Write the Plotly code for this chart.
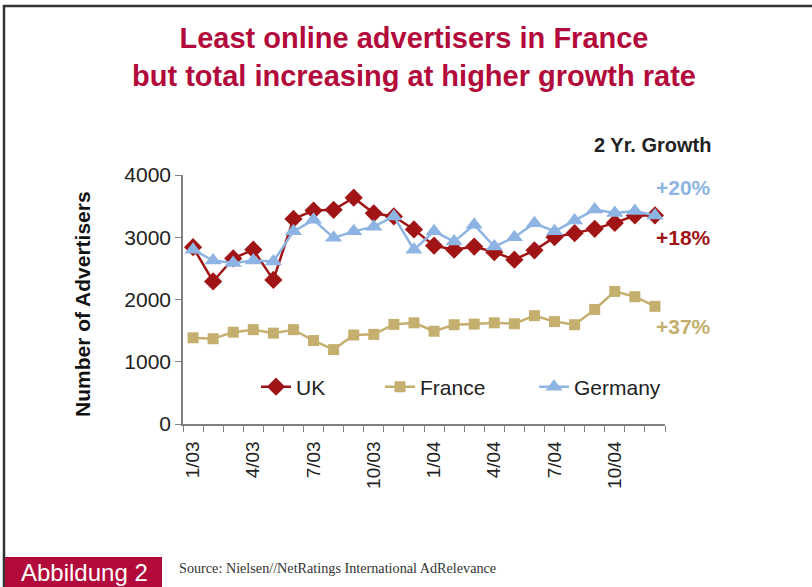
import plotly.graph_objects as go

months = ["1/03", "2/03", "3/03", "4/03", "5/03", "6/03", "7/03", "8/03", "9/03", "10/03", "11/03", "12/03",
          "1/04", "2/04", "3/04", "4/04", "5/04", "6/04", "7/04", "8/04", "9/04", "10/04", "11/04", "12/04"]
tick_labels = ["1/03", "", "", "4/03", "", "", "7/03", "", "", "10/03", "", "",
               "1/04", "", "", "4/04", "", "", "7/04", "", "", "10/04", "", ""]

uk = [2840, 2290, 2660, 2800, 2315, 3295, 3430, 3440, 3635, 3385, 3335, 3125,
      2865, 2800, 2850, 2760, 2640, 2790, 3000, 3065, 3135, 3230, 3350, 3350]
france = [1385, 1370, 1475, 1515, 1460, 1515, 1340, 1195, 1430, 1440, 1600, 1625,
          1490, 1595, 1605, 1625, 1610, 1740, 1645, 1595, 1840, 2130, 2045, 1890]
germany = [2800, 2625, 2585, 2625, 2610, 3095, 3280, 2990, 3095, 3170, 3335, 2800,
           3095, 2930, 3200, 2850, 3000, 3225, 3095, 3270, 3445, 3390, 3420, 3350]

growth_labels = ["+20%", "+18%", "+37%"]
growth_y = [3800, 3000, 1570]

W, H = 812, 587
L, R, T, B = 183, 147, 175, 163
PW, PH = W - L - R, H - T - B

def px(x):
    return (x - L) / PW

def py(y):
    return (H - B - y) / PH

UK_C = "#A01416"
FR_C = "#C4AF6E"
DE_C = "#8DB4E2"
TITLE_C = "#B30A3C"
FONT = "Liberation Sans, Arial, sans-serif"

fig = go.Figure()
fig.add_trace(go.Scatter(x=months, y=uk, name="UK", mode="lines+markers", legend="legend",
                         line=dict(color=UK_C, width=2.5),
                         marker=dict(symbol="diamond", size=14, color=UK_C)))
fig.add_trace(go.Scatter(x=months, y=france, name="France", mode="lines+markers", legend="legend2",
                         line=dict(color=FR_C, width=2.5),
                         marker=dict(symbol="square", size=11, color=FR_C)))
fig.add_trace(go.Scatter(x=months, y=germany, name="Germany", mode="lines+markers", legend="legend3",
                         line=dict(color=DE_C, width=2.5),
                         marker=dict(symbol="triangle-up", size=15, color=DE_C)))

def leg(x_px):
    return dict(orientation="h", x=px(x_px), y=py(387), xanchor="left", yanchor="middle",
                font=dict(size=21, color="#222222"), bgcolor="rgba(0,0,0,0)")

fig.update_layout(
    width=W, height=H,
    margin=dict(l=L, r=R, t=T, b=B),
    paper_bgcolor="white", plot_bgcolor="white",
    font=dict(family=FONT, size=21, color="#222222"),
    showlegend=True,
    legend=leg(256), legend2=leg(380), legend3=leg(534),
    xaxis=dict(type="category", categoryorder="array", categoryarray=months,
               tickmode="array", tickvals=months, ticktext=tick_labels,
               tickson="boundaries", ticks="outside", ticklen=6, tickcolor="#808080",
               tickangle=-90, tickfont=dict(size=19, color="#222222"), ticklabelstandoff=8,
               showline=True, linecolor="#808080", linewidth=1.5,
               showgrid=False, zeroline=False, range=[-0.5, 23.5], fixedrange=True),
    yaxis=dict(range=[0, 4000], tickvals=[0, 1000, 2000, 3000, 4000],
               ticks="outside", ticklen=6, tickcolor="#808080",
               tickfont=dict(size=21, color="#222222"),
               showline=True, linecolor="#808080", linewidth=1.5,
               showgrid=False, zeroline=False, fixedrange=True),
)

annotations = [
    dict(text="<b>Least online advertisers in France<br>but total increasing at higher growth rate</b>",
         xref="paper", yref="paper", x=px(414), y=py(20), xanchor="center", yanchor="top",
         showarrow=False, font=dict(size=29, color=TITLE_C, family=FONT), align="center"),
    dict(text="<b>Number of Advertisers</b>", xref="paper", yref="paper",
         x=px(82), y=py(304), xanchor="center", yanchor="middle", textangle=-90,
         showarrow=False, font=dict(size=21, color="#111111")),
    dict(text="<b>2 Yr. Growth</b>", xref="paper", yref="paper",
         x=px(713), y=py(145), xanchor="right", yanchor="middle",
         showarrow=False, font=dict(size=20, color="#222222")),
    dict(text="Abbildung 2", xref="paper", yref="paper",
         x=px(84), y=py(572), xanchor="center", yanchor="middle",
         showarrow=False, font=dict(size=24, color="white")),
    dict(text="Source: Nielsen//NetRatings International AdRelevance", xref="paper", yref="paper",
         x=px(177), y=py(568), xanchor="left", yanchor="middle",
         showarrow=False, font=dict(size=14.2, color="#333333",
                                    family="Liberation Serif, Times New Roman, serif")),
]
for lab, yv, col in zip(growth_labels, growth_y, [DE_C, UK_C, FR_C]):
    annotations.append(dict(text="<b>" + lab + "</b>", xref="paper", yref="y",
                            x=px(713), y=yv, xanchor="right", yanchor="middle",
                            showarrow=False, font=dict(size=21, color=col)))
fig.update_layout(annotations=annotations)

fig.update_layout(shapes=[
    dict(type="line", xref="paper", yref="paper", x0=px(3), x1=px(812), y0=py(6), y1=py(6),
         line=dict(color="#333333", width=2.5)),
    dict(type="line", xref="paper", yref="paper", x0=px(4), x1=px(4), y0=py(5), y1=py(587),
         line=dict(color="#333333", width=2.5)),
    dict(type="rect", xref="paper", yref="paper", x0=px(5), x1=px(162), y0=py(557), y1=py(590),
         fillcolor="#B30A3C", line=dict(width=0), layer="above"),
])

fig.write_html("out.html", config={"displayModeBar": False},
               post_script="document.body.style.margin='0';")
